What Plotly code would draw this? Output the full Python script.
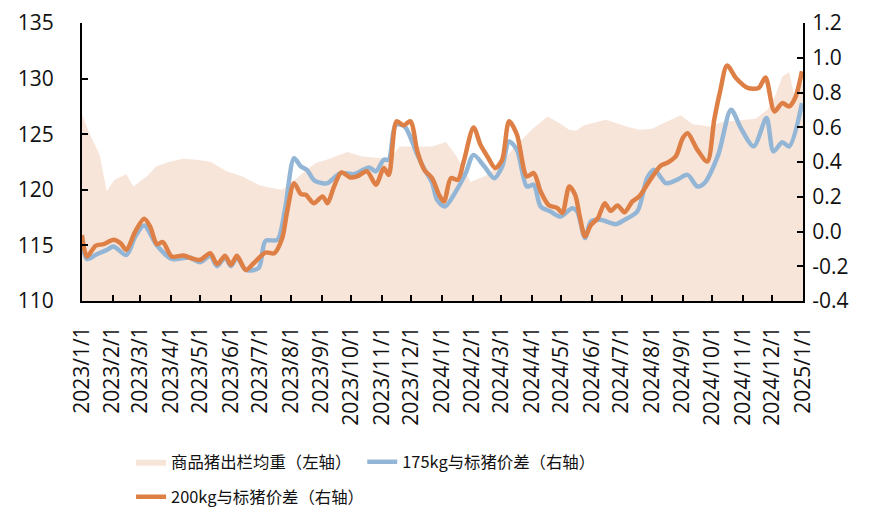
import plotly.graph_objects as go

# ---- data ----
weight_dates = ["2023-01-01","2023-01-08","2023-01-19","2023-01-26","2023-02-03","2023-02-15","2023-02-22",
                "2023-03-02","2023-03-09","2023-03-17","2023-03-30","2023-04-13","2023-04-28","2023-05-12",
                "2023-05-27","2023-06-13","2023-06-30","2023-07-10","2023-07-23","2023-08-13","2023-08-26",
                "2023-09-09","2023-09-27","2023-10-12","2023-11-09","2023-11-19","2023-12-22","2024-01-05",
                "2024-01-15","2024-01-30","2024-02-15","2024-02-28","2024-03-13","2024-04-02","2024-04-17",
                "2024-04-29","2024-05-09","2024-05-16","2024-05-24","2024-06-15","2024-07-06","2024-07-19",
                "2024-08-01","2024-08-15","2024-08-30","2024-09-11","2024-09-29","2024-10-11","2024-11-14",
                "2024-11-26","2024-12-04","2024-12-11","2024-12-18","2024-12-23","2025-01-01"]
weight_vals = [126.8,125.2,123.1,119.9,120.9,121.4,120.3,
               120.8,121.3,122.1,122.5,122.8,122.7,122.5,
               121.7,121.2,120.4,120.2,120.0,121.5,122.4,
               122.8,123.4,123.0,122.8,123.9,123.9,124.3,
               123.1,120.7,121.3,122.2,123.7,125.5,126.6,
               126.0,125.4,125.3,125.8,126.3,125.7,125.4,
               125.5,126.1,126.7,125.9,125.7,126.1,126.4,
               127.2,128.5,130.2,130.6,128.5,129.6]

s200_dates = ["2023-01-01","2023-01-06","2023-01-15","2023-01-23","2023-02-02","2023-02-09","2023-02-15",
              "2023-02-24","2023-03-05","2023-03-11","2023-03-18","2023-03-24","2023-04-02","2023-04-14",
              "2023-04-22","2023-05-01","2023-05-11","2023-05-18","2023-05-26","2023-06-01","2023-06-07",
              "2023-06-16","2023-06-24","2023-07-06","2023-07-15","2023-07-23","2023-07-28","2023-08-04",
              "2023-08-11","2023-08-16","2023-08-24","2023-09-02","2023-09-07","2023-09-13","2023-09-21",
              "2023-09-30","2023-10-07","2023-10-17","2023-10-26","2023-11-03","2023-11-08","2023-11-16",
              "2023-11-23","2023-11-30","2023-12-07","2023-12-14","2023-12-22","2023-12-29","2024-01-03",
              "2024-01-10","2024-01-17","2024-01-23","2024-02-02","2024-02-09","2024-02-16","2024-02-24",
              "2024-03-02","2024-03-09","2024-03-17","2024-03-27","2024-04-03","2024-04-10","2024-04-18",
              "2024-04-27","2024-05-02","2024-05-09","2024-05-15","2024-05-20","2024-05-25","2024-05-31",
              "2024-06-07","2024-06-14","2024-06-20","2024-06-27","2024-07-04","2024-07-12","2024-07-19",
              "2024-07-29","2024-08-10","2024-08-16","2024-08-25","2024-09-01","2024-09-06","2024-09-16",
              "2024-09-26","2024-10-03","2024-10-09","2024-10-16","2024-10-25","2024-11-06","2024-11-17",
              "2024-11-24","2024-12-03","2024-12-11","2024-12-18","2024-12-24","2024-12-31"]
s200_vals = [-0.02,-0.144,-0.081,-0.073,-0.048,-0.067,-0.106,
             0.0,0.073,0.029,-0.073,-0.061,-0.144,-0.138,
             -0.154,-0.163,-0.125,-0.188,-0.14,-0.192,-0.14,
             -0.221,-0.183,-0.121,-0.125,-0.038,0.115,0.278,
             0.215,0.211,0.163,0.202,0.163,0.25,0.34,
             0.311,0.317,0.346,0.269,0.365,0.326,0.634,
             0.611,0.634,0.461,0.355,0.307,0.211,0.173,
             0.307,0.297,0.403,0.599,0.499,0.432,0.365,
             0.413,0.634,0.557,0.317,0.336,0.23,0.153,
             0.134,0.106,0.259,0.211,0.077,-0.029,0.038,
             0.077,0.163,0.119,0.15,0.111,0.173,0.202,
             0.288,0.38,0.394,0.432,0.537,0.566,0.47,
             0.403,0.643,0.807,0.956,0.883,0.826,0.826,
             0.887,0.691,0.739,0.72,0.768,0.922]

s175_dates = ["2023-01-01","2023-01-06","2023-01-16","2023-01-26","2023-02-02","2023-02-15","2023-02-24",
              "2023-03-05","2023-03-18","2023-04-02","2023-04-20","2023-05-01","2023-05-11","2023-05-18",
              "2023-05-26","2023-06-01","2023-06-07","2023-06-16","2023-06-29","2023-07-06","2023-07-18",
              "2023-07-26","2023-08-04","2023-08-11","2023-08-17","2023-08-24","2023-09-02","2023-09-07",
              "2023-09-20","2023-10-04","2023-10-19","2023-10-26","2023-11-03","2023-11-08","2023-11-15",
              "2023-11-24","2023-12-07","2023-12-14","2023-12-22","2023-12-27","2024-01-04","2024-01-17",
              "2024-01-25","2024-02-02","2024-02-13","2024-02-23","2024-03-02","2024-03-09","2024-03-17",
              "2024-03-27","2024-04-03","2024-04-10","2024-04-20","2024-04-30","2024-05-12","2024-05-17",
              "2024-05-25","2024-05-31","2024-06-10","2024-06-25","2024-07-04","2024-07-17","2024-07-27",
              "2024-08-03","2024-08-15","2024-08-21","2024-08-27","2024-09-06","2024-09-16","2024-09-23",
              "2024-10-07","2024-10-20","2024-10-30","2024-11-12","2024-11-25","2024-12-02","2024-12-11",
              "2024-12-18","2024-12-31"]
s175_vals = [-0.05,-0.158,-0.131,-0.106,-0.086,-0.135,-0.029,
             0.035,-0.081,-0.158,-0.15,-0.177,-0.14,-0.2,
             -0.15,-0.2,-0.15,-0.221,-0.211,-0.054,-0.048,
             0.134,0.422,0.374,0.355,0.297,0.278,0.278,
             0.336,0.33,0.369,0.346,0.413,0.413,0.614,
             0.605,0.441,0.36,0.28,0.182,0.144,0.25,
             0.336,0.441,0.374,0.307,0.374,0.518,0.47,
             0.259,0.269,0.144,0.115,0.086,0.134,0.115,
             -0.038,0.058,0.067,0.042,0.067,0.115,0.307,
             0.355,0.278,0.284,0.3,0.326,0.259,0.278,
             0.441,0.701,0.595,0.49,0.653,0.461,0.514,
             0.49,0.739]

month_ticks = ["2023-%02d-01" % m for m in range(1, 13)] + ["2024-%02d-01" % m for m in range(1, 13)] + ["2025-01-01"]
month_labels = ["2023/%d/1" % m for m in range(1, 13)] + ["2024/%d/1" % m for m in range(1, 13)] + ["2025/1/1"]

left_ticks = [110, 115, 120, 125, 130, 135]
right_ticks = [-0.4, -0.2, 0.0, 0.2, 0.4, 0.6, 0.8, 1.0, 1.2]
right_labels = ["-0.4", "-0.2", "0.0", "0.2", "0.4", "0.6", "0.8", "1.0", "1.2"]

names = ["商品猪出栏均重（左轴）", "175kg与标猪价差（右轴）", "200kg与标猪价差（右轴）"]

# ---- styles ----
C_AREA = "#F8E5DA"
C_BLUE = "#93B6D6"
C_ORANGE = "#DE7F45"
TICK_FONT = dict(family="Open Sans, Noto Sans CJK SC, sans-serif", size=21, color="#111111")
LEG_FONT = dict(family="Noto Sans CJK SC, sans-serif", size=16.4, color="#111111")

fig = go.Figure()
fig.add_trace(go.Scatter(x=weight_dates, y=weight_vals, name=names[0], mode="lines",
                         fill="tozeroy", fillcolor=C_AREA, line=dict(width=0, color=C_AREA),
                         yaxis="y", legend="legend"))
fig.add_trace(go.Scatter(x=s175_dates, y=s175_vals, name=names[1], mode="lines",
                         line=dict(color=C_BLUE, width=4.5, shape="spline", smoothing=0.8),
                         yaxis="y2", legend="legend3"))
fig.add_trace(go.Scatter(x=s200_dates, y=s200_vals, name=names[2], mode="lines",
                         line=dict(color=C_ORANGE, width=4.5, shape="spline", smoothing=0.8),
                         yaxis="y2", legend="legend2"))

axis_common = dict(showgrid=False, zeroline=False, showline=True, linecolor="black", linewidth=2,
                   ticks="inside", ticklen=6, tickwidth=2, tickcolor="black", tickfont=TICK_FONT,
                   automargin=False)

leg_common = dict(orientation="h", xref="container", yref="container", xanchor="left", yanchor="middle",
                  font=LEG_FONT, bgcolor="rgba(0,0,0,0)", itemwidth=30)

# page body has a default offset; figure sized to fit the window
fig.update_layout(
    width=879, height=522,
    margin=dict(l=74, r=84, t=15, b=229),
    plot_bgcolor="white", paper_bgcolor="white",
    xaxis=dict(type="date", range=["2023-01-01", "2025-01-01"], tickvals=month_ticks, ticktext=month_labels,
               tickangle=-90, ticklabelstandoff=15, **axis_common),
    yaxis=dict(range=[110, 135], tickvals=left_ticks, side="left", ticklabelstandoff=22, **axis_common),
    yaxis2=dict(range=[-0.4, 1.2], tickvals=right_ticks, ticktext=right_labels, overlaying="y", side="right",
                ticklabelstandoff=3, **axis_common),
    legend=dict(x=0.140, y=0.130, **leg_common),
    legend3=dict(x=0.403, y=0.130, **leg_common),
    legend2=dict(x=0.140, y=0.063, **leg_common),
    showlegend=True,
)

fig.write_html("out.html")
